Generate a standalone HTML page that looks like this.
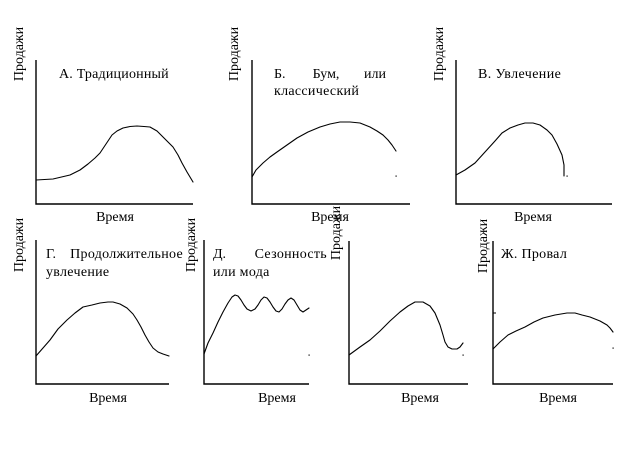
<!DOCTYPE html>
<html><head><meta charset="utf-8"><style>
html,body{margin:0;padding:0;background:#fff;}
svg{display:block;}
text{font-family:"Liberation Serif","Noto Serif CJK SC",serif;font-size:14px;fill:#000;}
.ax{stroke:#000;stroke-width:1.4;fill:none;}
.cv{stroke:#000;stroke-width:1.1;fill:none;stroke-linejoin:round;stroke-linecap:round;}
</style></head><body>
<svg width="625" height="457" viewBox="0 0 625 457" xmlns="http://www.w3.org/2000/svg">
<rect width="625" height="457" fill="#fff"/>
<!-- Axes -->
<path class="ax" d="M36,60 V204 H193"/>
<path class="ax" d="M252,60 V204 H410"/>
<path class="ax" d="M456,60 V204 H612"/>
<path class="ax" d="M36,240 V384 H169"/>
<path class="ax" d="M204,240 V384 H309"/>
<path class="ax" d="M349,241 V384 H468"/>
<path class="ax" d="M493,241 V384 H613"/>
<!-- Curves -->
<polyline class="cv" points="36,180 53,179 70,175 80,170 88,164 95,158 100,153 106,144 112,135 117,131 123,128 130,126.5 137,126 144,126.5 150,127 157,131 163,137 168,142 173,147 178,155 182,163 187,172 193,182"/>
<polyline class="cv" points="252,177 256,170 263,163 270,157 277,152 287,145 297,138 308,132 320,127 330,124 340,122 350,122 360,123 370,127 377,131 383,135 388,140 392,145 396,151"/>
<polyline class="cv" points="456,175 465,170 475,163 485,152 495,141 502,133 510,128 518,125 525,123 533,123 540,125 547,130 552,135 557,144 562,155 564,165 564,176"/>
<polyline class="cv" points="36,356 43,348 50,340 58,329 67,320 75,313 83,307 92,305 100,303 108,302 113,302 120,304 127,308 133,314 137,320 141,327 145,335 149,342 153,348 158,352 163,354 169,356"/>
<polyline class="cv" points="204,354 208,343 213,333 218,322 223,312 228,303 232,297 235,295 238,296 241,300 244,305 247,309 251,311 255,309 258,305 261,300 264,297 267,298 270,302 273,307 276,311 279,312 282,309 285,304 288,300 291,298 294,300 297,305 300,310 303,312 306,310 309,308"/>
<polyline class="cv" points="349,355 360,347 370,340 380,331 390,321 400,312 408,306 415,302 423,302 430,306 435,313 440,325 443,335 445,342 448,347 452,349 457,349 460,347 463,343"/>
<polyline class="cv" points="493,349 500,342 508,335 516,331 525,327 534,322 543,318 555,315 567,313 575,313 582,315 590,317 600,321 607,325 610,328 613,332"/>
<!-- dots / ticks -->
<rect x="395.5" y="175.5" width="1.2" height="1.2" fill="#000"/>
<rect x="566.5" y="175.5" width="1.2" height="1.2" fill="#000"/>
<rect x="308.5" y="354.5" width="1.2" height="1.2" fill="#000"/>
<rect x="462.5" y="354.5" width="1.2" height="1.2" fill="#000"/>
<rect x="612.5" y="347.5" width="1.2" height="1.2" fill="#000"/>
<rect x="493" y="312.5" width="3" height="1" fill="#000"/>
<!-- Titles -->
<text x="59" y="78" style="letter-spacing:0.2px">А. Традиционный</text>
<text x="274" y="78">Б.</text>
<text x="326" y="78" text-anchor="middle">Бум,</text>
<text x="386" y="78" text-anchor="end">или</text>
<text x="274" y="95" style="letter-spacing:0.3px">классический</text>
<text x="478" y="78" style="letter-spacing:0.4px">В. Увлечение</text>
<text x="46" y="258">Г.</text>
<text x="183" y="258" text-anchor="end" style="letter-spacing:0.3px">Продолжительное</text>
<text x="46" y="276" style="letter-spacing:0.3px">увлечение</text>
<text x="213" y="258">Д.</text>
<text x="327" y="258" text-anchor="end" style="letter-spacing:0.3px">Сезонность</text>
<text x="213" y="276" style="letter-spacing:0.3px">или мода</text>
<text x="501" y="258" style="letter-spacing:0.3px">Ж. Провал</text>
<!-- x labels -->
<text x="115" y="221" text-anchor="middle">Время</text>
<text x="330" y="221" text-anchor="middle">Время</text>
<text x="533" y="221" text-anchor="middle">Время</text>
<text x="108" y="402" text-anchor="middle">Время</text>
<text x="277" y="402" text-anchor="middle">Время</text>
<text x="420" y="402" text-anchor="middle">Время</text>
<text x="558" y="402" text-anchor="middle">Время</text>
<!-- y labels -->
<text transform="translate(23,54) rotate(-90)" text-anchor="middle">Продажи</text>
<text transform="translate(238,54) rotate(-90)" text-anchor="middle">Продажи</text>
<text transform="translate(443,54) rotate(-90)" text-anchor="middle">Продажи</text>
<text transform="translate(23,245) rotate(-90)" text-anchor="middle">Продажи</text>
<text transform="translate(195,245) rotate(-90)" text-anchor="middle">Продажи</text>
<text transform="translate(340,233) rotate(-90)" text-anchor="middle">Продажи</text>
<text transform="translate(487,246) rotate(-90)" text-anchor="middle">Продажи</text>
</svg>
</body></html>
